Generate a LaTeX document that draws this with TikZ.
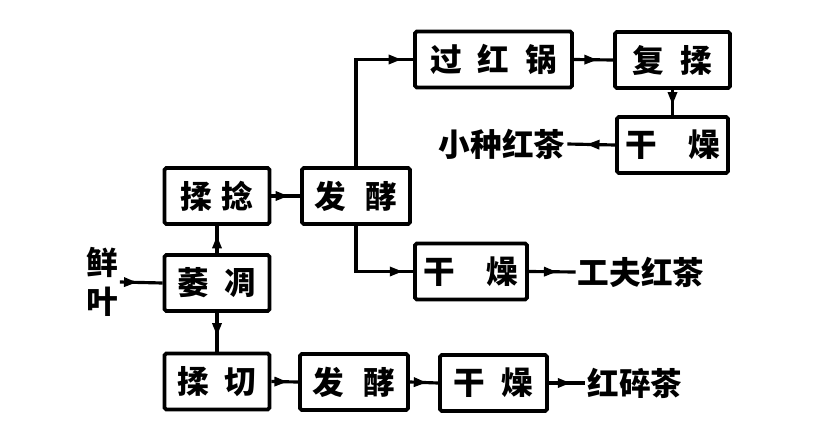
\documentclass[tikz,border=0pt]{standalone}
\usepackage{fontspec}
\newfontfamily\cjk{Noto Sans CJK SC}
\usetikzlibrary{arrows.meta,decorations.markings}

\begin{document}
\begin{tikzpicture}[
		box/.style={draw,line width=2.2pt,rounded corners=1pt,minimum width=2.1cm,minimum height=1.12cm,inner sep=0pt,font=\cjk\bfseries\fontsize{18}{18}\selectfont},
		lbl/.style={inner sep=1pt,font=\cjk\bfseries\fontsize{18}{22}\selectfont},
		flow/.style={line width=1.8pt,decoration={markings,mark=at position #1 with {\arrow{Triangle[length=2.6mm,width=1.8mm]}}},postaction={decorate}},
		flow/.default=0.6]
		\useasboundingbox (0,0) rectangle (16.68,8.88);

		\node[lbl,align=center] (xianye) at (2.04,3.24) {鲜\\叶};
		\node[box] (weidiao) at (4.34,3.22) {萎\hspace{.5em}凋};
		\node[box] (rounian) at (4.34,4.96) {揉\hspace{.3em}捻};
		\node[box,minimum width=2.16cm] (fajiao) at (7.12,4.96) {发\hspace{.6em}酵};
		\node[box,minimum width=3.14cm] (guohongguo) at (9.87,7.69) {过\hspace{.5em}红\hspace{.5em}锅};
		\node[box,minimum width=2.3cm] (furou) at (13.45,7.68) {复\hspace{.5em}揉};
		\node[box,minimum width=2.22cm] (ganzaoA) at (13.45,5.98) {干\hspace{1em}燥};
		\node[lbl] (xiaozhong) at (10.04,6.0) {小种红茶};
		\node[box,minimum width=2.24cm] (ganzaoB) at (9.42,3.45) {干\hspace{1em}燥};
		\node[lbl] (gongfu) at (12.82,3.44) {工夫红茶};
		\node[box] (rouqie) at (4.34,1.25) {揉\hspace{.5em}切};
		\node[box,minimum width=2.16cm] (fajiaoB) at (7.08,1.24) {发\hspace{.6em}酵};
		\node[box,minimum width=2.14cm] (ganzaoC) at (9.87,1.22) {干\hspace{.5em}燥};
		\node[lbl] (suicha) at (12.7,1.22) {红碎茶};

		\draw[flow=0.4] (xianye.east) -- (weidiao.west);
		\draw[flow=0.65] (weidiao.north) -- (rounian.south);
		\draw[flow] (rounian.east) -- (fajiao.west);
		\draw[flow=0.93] (fajiao.north) |- (guohongguo.west);
		\draw[flow] (guohongguo.east) -- (furou.west);
		\draw[flow] (furou.south) -- (ganzaoA.north);
		\draw[flow=0.6] (ganzaoA.west) -- (xiaozhong.east);
		\draw[flow=0.9] (fajiao.south) |- (ganzaoB.west);
		\draw[flow] (ganzaoB.east) -- (gongfu.west);
		\draw[flow] (weidiao.south) -- (rouqie.north);
		\draw[flow] (rouqie.east) -- (fajiaoB.west);
		\draw[flow] (fajiaoB.east) -- (ganzaoC.west);
		\draw[flow] (ganzaoC.east) -- (suicha.west);
	\end{tikzpicture}
\end{document}
